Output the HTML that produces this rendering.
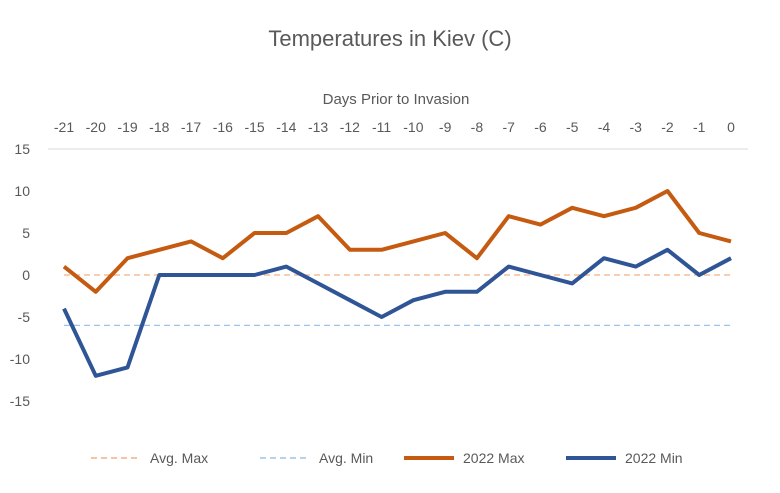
<!DOCTYPE html>
<html><head><meta charset="utf-8"><style>
body{margin:0;background:#fff;}
svg text{font-family:"Liberation Sans",Calibri,sans-serif;fill:#595959;}
</style></head><body>
<svg id="chart" width="780" height="488" xmlns="http://www.w3.org/2000/svg">
<rect width="780" height="488" fill="#fff"/>
<text x="390" y="46" font-size="22" text-anchor="middle">Temperatures  in Kiev (C)</text>
<text x="396" y="104" font-size="15" text-anchor="middle">Days Prior to Invasion</text>
<g id="xt"></g><g id="yt"></g><g id="marks"></g>
<g>
<g><line x1="91" y1="458" x2="141" y2="458" stroke="#F4B183" stroke-width="1.5" stroke-dasharray="6,4"/><text x="150" y="463" font-size="14">Avg. Max</text></g>
<g><line x1="260" y1="458" x2="310" y2="458" stroke="#9DC3E6" stroke-width="1.5" stroke-dasharray="6,4"/><text x="319" y="463" font-size="14">Avg. Min</text></g>
<g><line x1="404" y1="458" x2="454" y2="458" stroke="#C55A11" stroke-width="4"/><text x="463" y="463" font-size="14">2022 Max</text></g>
<g><line x1="566" y1="458" x2="616" y2="458" stroke="#2F5597" stroke-width="4"/><text x="625" y="463" font-size="14">2022 Min</text></g>
</g>
</svg>
<script>
const days=[-21,-20,-19,-18,-17,-16,-15,-14,-13,-12,-11,-10,-9,-8,-7,-6,-5,-4,-3,-2,-1,0];
const max2022=[1,-2,2,3,4,2,5,5,7,3,3,4,5,2,7,6,8,7,8,10,5,4];
const min2022=[-4,-12,-11,0,0,0,0,1,-1,-3,-5,-3,-2,-2,1,0,-1,2,1,3,0,2];
const avgMax=[0];
const avgMin=[-6];
const yTicks=[15,10,5,0,-5,-10,-15];
const NS="http://www.w3.org/2000/svg";
const x=d=>64+(d+21)*(731-64)/21;
const y=v=>275-v*8.4;
const xt=document.getElementById('xt'),yt=document.getElementById('yt'),m=document.getElementById('marks');
function mk(tag,attrs,parent){const e=document.createElementNS(NS,tag);for(const k in attrs)e.setAttribute(k,attrs[k]);parent.appendChild(e);return e;}
const grid=mk('line',{x1:48,x2:748,y1:y(15),y2:y(15),stroke:'#D9D9D9','stroke-width':1},m);


days.forEach(d=>{const t=mk('text',{x:x(d),y:132,'font-size':14,'text-anchor':'middle'},xt);t.textContent=d;

});
yTicks.forEach(v=>{const t=mk('text',{x:30,y:y(v)+5,'font-size':14,'text-anchor':'end'},yt);t.textContent=v;

});
const am=mk('line',{x1:x(-21),x2:x(0),y1:y(avgMax[0]),y2:y(avgMax[0]),stroke:'#F4B183','stroke-width':1.2,'stroke-dasharray':'6,4'},m);


const an=mk('line',{x1:x(-21),x2:x(0),y1:y(avgMin[0]),y2:y(avgMin[0]),stroke:'#9DC3E6','stroke-width':1.2,'stroke-dasharray':'6,4'},m);


const pts=a=>a.map((v,i)=>x(days[i])+','+y(v)).join(' ');
const l1=mk('polyline',{points:pts(max2022),fill:'none',stroke:'#C55A11','stroke-width':4,'stroke-linejoin':'round'},m);


const l2=mk('polyline',{points:pts(min2022),fill:'none',stroke:'#2F5597','stroke-width':4,'stroke-linejoin':'round'},m);


</script>
</body></html>
